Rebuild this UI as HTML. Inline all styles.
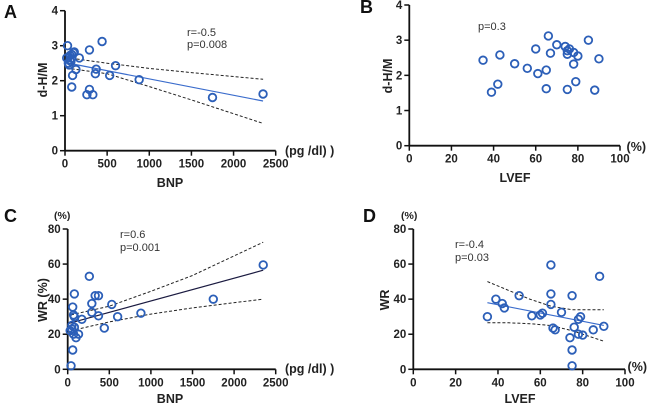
<!DOCTYPE html>
<html><head><meta charset="utf-8"><style>
html,body{margin:0;padding:0;background:#fff}
svg{display:block}
text{font-family:"Liberation Sans",Arial,sans-serif}
.tk{font-size:11.5px;font-weight:bold;fill:#222}
.tt{font-size:12.5px;font-weight:bold;fill:#222}
.un{font-size:10.5px;font-weight:bold;fill:#222}
.st{font-size:11px;fill:#333}
.pl{font-size:18px;font-weight:bold;fill:#111}
</style></head><body>
<svg id="fig" width="648" height="405" viewBox="0 0 648 405"></svg>
<script>
// Panel A: BNP vs d-H/M
const aBNP=[30,60,80,100,110,60,70,50,40,170,130,90,80,290,440,600,370,360,530,880,290,260,330,1750,2350,20];
const aDHM=[3.0,2.72,2.75,2.8,2.82,2.6,2.55,2.45,2.5,2.65,2.32,2.15,1.82,2.88,3.12,2.43,2.33,2.2,2.15,2.03,1.75,1.6,1.6,1.52,1.62,2.65];
const aFitX=[0,2350], aFitY=[2.52,1.42];
const aCiX=[20,500,1000,1500,2350], aCiUp=[2.66,2.5,2.35,2.23,2.04], aCiLo=[2.36,2.2,1.83,1.45,0.78];
// Panel B: LVEF vs d-H/M
const bLVEF=[35,39,42,43,50,56,60,61,65,65,66,67,70,74,75,75,76,78,78,79,80,75,85,88,90];
const bDHM=[2.43,1.52,1.75,2.58,2.33,2.2,2.75,2.05,2.15,1.62,3.12,2.63,2.87,2.82,2.7,2.6,2.75,2.65,2.32,1.82,2.55,1.6,3.0,1.58,2.47];
// Panel C: BNP vs WR
const cBNP=[30,40,60,50,60,70,80,80,80,70,100,130,170,50,260,290,290,330,370,370,440,530,600,880,1750,2350];
const cWR=[22,2,11,25,35.5,31,43,30,24,20,18,20,28.5,23,53,37.5,32.5,42,42,30.5,23.5,37,30,32,40,59.5];
const cFitX=[0,2350], cFitY=[26,56.5];
const cCiX=[40,500,1000,1500,2350], cCiUp=[31,36,44.5,53.5,72.5], cCiLo=[22,27,31.5,35,40];
// Panel D: LVEF vs WR
const dLVEF=[35,39,42,43,50,56,60,61,65,65,65,66,67,70,74,75,75,75,76,78,78,79,80,85,88,90];
const dWR=[30,40,37.5,35,42,30.5,31,32,59.5,43,37,23.5,22.5,32.5,18,42,11,2,24,28.5,20,30,19.5,22.5,53,24.5];
const dFitX=[35,90], dFitY=[38,25];
const dCiX=[35,45,55,65,75,80,90], dCiUp=[50,45,40,36,34,34,34], dCiLo=[26.5,26.5,26,25,22,20,16];

const NS='http://www.w3.org/2000/svg';
const svg=document.getElementById('fig');
function mk(tag,attrs,parent,txt){const e=document.createElementNS(NS,tag);for(const k in attrs)e.setAttribute(k,attrs[k]);if(txt!==undefined)e.textContent=txt;(parent||svg).appendChild(e);return e;}

function panel(o){
  const g=mk('g',{});
  
  
  const sx=v=>o.x0+(v-o.xmin)/(o.xmax-o.xmin)*(o.x1-o.x0);
  const sy=v=>o.y0-(v-o.ymin)/(o.ymax-o.ymin)*(o.y0-o.y1);
  const ya=mk('line',{x1:o.x0,y1:o.y0,x2:o.x0,y2:o.y1,stroke:'#111','stroke-width':1.8},g);
  
  const xa=mk('line',{x1:o.x0,y1:o.y0,x2:o.x1,y2:o.y0,stroke:'#111','stroke-width':1.8},g);
  
  o.yt.forEach(v=>{const y=sy(v);mk('line',{x1:o.x0-5,y1:y,x2:o.x0,y2:y,stroke:'#111','stroke-width':1.5},g);
    const t=mk('text',{x:o.x0-7,y:y+4,'text-anchor':'end',class:'tk'},g,String(v));
    });
  o.xt.forEach(v=>{const x=sx(v);mk('line',{x1:x,y1:o.y0,x2:x,y2:o.y0+5,stroke:'#111','stroke-width':1.5},g);
    const t=mk('text',{x:x,y:o.y0+17,'text-anchor':'middle',class:'tk'},g,String(v));
    });
  if(o.ciX){
    [o.ciUp,o.ciLo].forEach((arr,i)=>{
      const d=o.ciX.map((v,j)=>(j?'L':'M')+sx(v).toFixed(1)+','+sy(arr[j]).toFixed(1)).join(' ');
      const p=mk('path',{d:d,fill:'none',stroke:'#222','stroke-width':1,'stroke-dasharray':'3,2'},g);
      
    });
  }
  if(o.fitX){
    const l=mk('line',{x1:sx(o.fitX[0]),y1:sy(o.fitY[0]),x2:sx(o.fitX[1]),y2:sy(o.fitY[1]),stroke:o.fitColor,'stroke-width':1.2},g);
    
  }
  o.xs.forEach((v,i)=>{
    const c=mk('circle',{cx:sx(v),cy:sy(o.ys[i]),r:3.8,fill:'none',stroke:'#2c5fb8','stroke-width':1.8},g);
    
  });
  o.texts.forEach(t=>{
    const e=mk('text',Object.assign({x:t[0],y:t[1],class:t[3]},t[5]?{transform:t[5]}:{} ,t[6]?{'text-anchor':t[6]}:{}),g,t[2]);
    
  });
}

panel({name:'panel-a',x0:65,x1:275.7,y0:150.7,y1:10.7,xmin:0,xmax:2500,ymin:0,ymax:4,
  xt:[0,500,1000,1500,2000,2500],yt:[0,1,2,3,4],xs:aBNP,ys:aDHM,fitX:aFitX,fitY:aFitY,fitColor:'#3a6ccc',
  ciX:aCiX,ciUp:aCiUp,ciLo:aCiLo,
  texts:[[4,18,'A','pl','panel-label-a'],[187,36,'r=-0.5','st','r-value'],[187,48,'p=0.008','st','p-value'],
   [285,155,'(pg /dl) )','tt','x-unit'],[170,187,'BNP','tt','x-axis-title',null,'middle'],
   [47,80,'d-H/M','tt','y-axis-title','rotate(-90 47 80)','middle']]});
panel({name:'panel-b',x0:409.3,x1:620,y0:145.7,y1:5,xmin:0,xmax:100,ymin:0,ymax:4,
  xt:[0,20,40,60,80,100],yt:[0,1,2,3,4],xs:bLVEF,ys:bDHM,
  texts:[[360,13,'B','pl','panel-label-b'],[478,30,'p=0.3','st','p-value'],
   [646,151,'(%)','tt','x-unit',null,'end'],[515,182,'LVEF','tt','x-axis-title',null,'middle'],
   [392,76,'d-H/M','tt','y-axis-title','rotate(-90 392 76)','middle']]});
panel({name:'panel-c',x0:67.7,x1:275.7,y0:369.3,y1:229,xmin:0,xmax:2500,ymin:0,ymax:80,
  xt:[0,500,1000,1500,2000,2500],yt:[0,20,40,60,80],xs:cBNP,ys:cWR,fitX:cFitX,fitY:cFitY,fitColor:'#1a1a40',
  ciX:cCiX,ciUp:cCiUp,ciLo:cCiLo,
  texts:[[4,222,'C','pl','panel-label-c'],[54,219,'(%)','un','y-unit'],[120,238,'r=0.6','st','r-value'],[120,251,'p=0.001','st','p-value'],
   [285,373,'(pg /dl) )','tt','x-unit'],[170,403,'BNP','tt','x-axis-title',null,'middle'],
   [47,300,'WR (%)','tt','y-axis-title','rotate(-90 47 300)','middle']]});
panel({name:'panel-d',x0:413.3,x1:625,y0:369.3,y1:229,xmin:0,xmax:100,ymin:0,ymax:80,
  xt:[0,20,40,60,80,100],yt:[0,20,40,60,80],xs:dLVEF,ys:dWR,fitX:dFitX,fitY:dFitY,fitColor:'#3a6ccc',
  ciX:dCiX,ciUp:dCiUp,ciLo:dCiLo,
  texts:[[363,222,'D','pl','panel-label-d'],[401,219,'(%)','un','y-unit'],[455,248,'r=-0.4','st','r-value'],[455,261,'p=0.03','st','p-value'],
   [647,371,'(%)','tt','x-unit',null,'end'],[520,403,'LVEF','tt','x-axis-title',null,'middle'],
   [389,300,'WR','tt','y-axis-title','rotate(-90 389 300)','middle']]});
</script>
</body></html>
